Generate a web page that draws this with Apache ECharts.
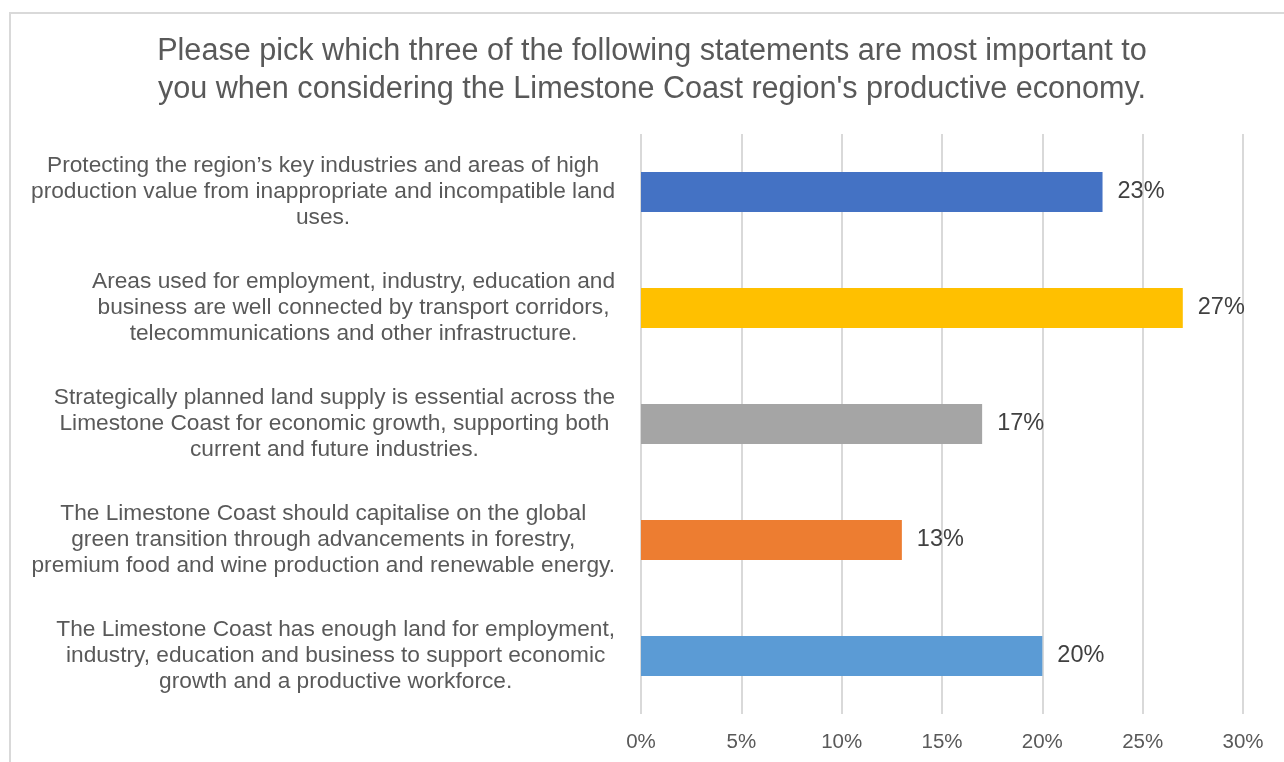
<!DOCTYPE html>
<html>
<head>
<meta charset="utf-8">
<script src="https://cdn.jsdelivr.net/npm/echarts@6/dist/echarts.min.js"></script>
<style>
html,body{margin:0;padding:0;background:#fff;}
#chart{width:1284px;height:762px;}
</style>
</head>
<body>
<div id="chart"></div>
<script>
const titleText = "Please pick which three of the following statements are most important to\nyou when considering the Limestone Coast region's productive economy.";
const categories = [
  "Protecting the region\u2019s key industries and areas of high\nproduction value from inappropriate and incompatible land\nuses.",
  "Areas used for employment, industry, education and\nbusiness are well connected by transport corridors,\ntelecommunications and other infrastructure.",
  "Strategically planned land supply is essential across the\nLimestone Coast for economic growth, supporting both\ncurrent and future industries.",
  "The Limestone Coast should capitalise on the global\ngreen transition through advancements in forestry,\npremium food and wine production and renewable energy.",
  "The Limestone Coast has enough land for employment,\nindustry, education and business to support economic\ngrowth and a productive workforce."
];
const values = [23, 27, 17, 13, 20];
const barColors = ["#4472C4", "#FFC000", "#A5A5A5", "#ED7D31", "#5B9BD5"];
const xTicks = [0, 5, 10, 15, 20, 25, 30];

const chart = echarts.init(document.getElementById('chart'), null, {renderer: 'canvas'});
const font = 'Liberation Sans, Arial, sans-serif';
chart.setOption({
  animation: false,
  backgroundColor: '#ffffff',
  graphic: [{
    type: 'rect',
    shape: {x: 10, y: 13, width: 1400, height: 900},
    style: {fill: 'none', stroke: '#d9d9d9', lineWidth: 2},
    silent: true, z: -1
  }],
  title: {
    text: titleText,
    left: 647, top: 28, textAlign: 'center',
    textStyle: {fontFamily: font, fontSize: 30.6, fontWeight: 'normal', color: '#595959', lineHeight: 38}
  },
  grid: {left: 641, right: 41, top: 134, bottom: 48, containLabel: false},
  xAxis: {
    type: 'value',
    min: xTicks[0], max: xTicks[xTicks.length - 1], interval: 5,
    axisLine: {show: false}, axisTick: {show: false},
    splitLine: {show: true, lineStyle: {color: '#d9d9d9', width: 2}},
    axisLabel: {formatter: '{value}%', color: '#595959', fontFamily: font, fontSize: 20.5, margin: 18}
  },
  yAxis: {
    type: 'category',
    inverse: true,
    data: categories,
    axisLine: {show: false}, axisTick: {show: false},
    axisLabel: {
      margin: 26,
      align: 'right',
      formatter: v => v.split('\n').map(l => '{c|' + l + '}').join('\n'),
      rich: {c: {align: 'center', fontFamily: font, fontSize: 22.7, lineHeight: 26, color: '#595959'}}
    }
  },
  series: [{
    type: 'bar',
    barWidth: 40,
    data: values.map((v, i) => ({value: v, itemStyle: {color: barColors[i]}})),
    label: {show: true, position: 'right', distance: 15, formatter: '{c}%', color: '#404040', fontFamily: font, fontSize: 23.5}
  }]
});
</script>
</body>
</html>
